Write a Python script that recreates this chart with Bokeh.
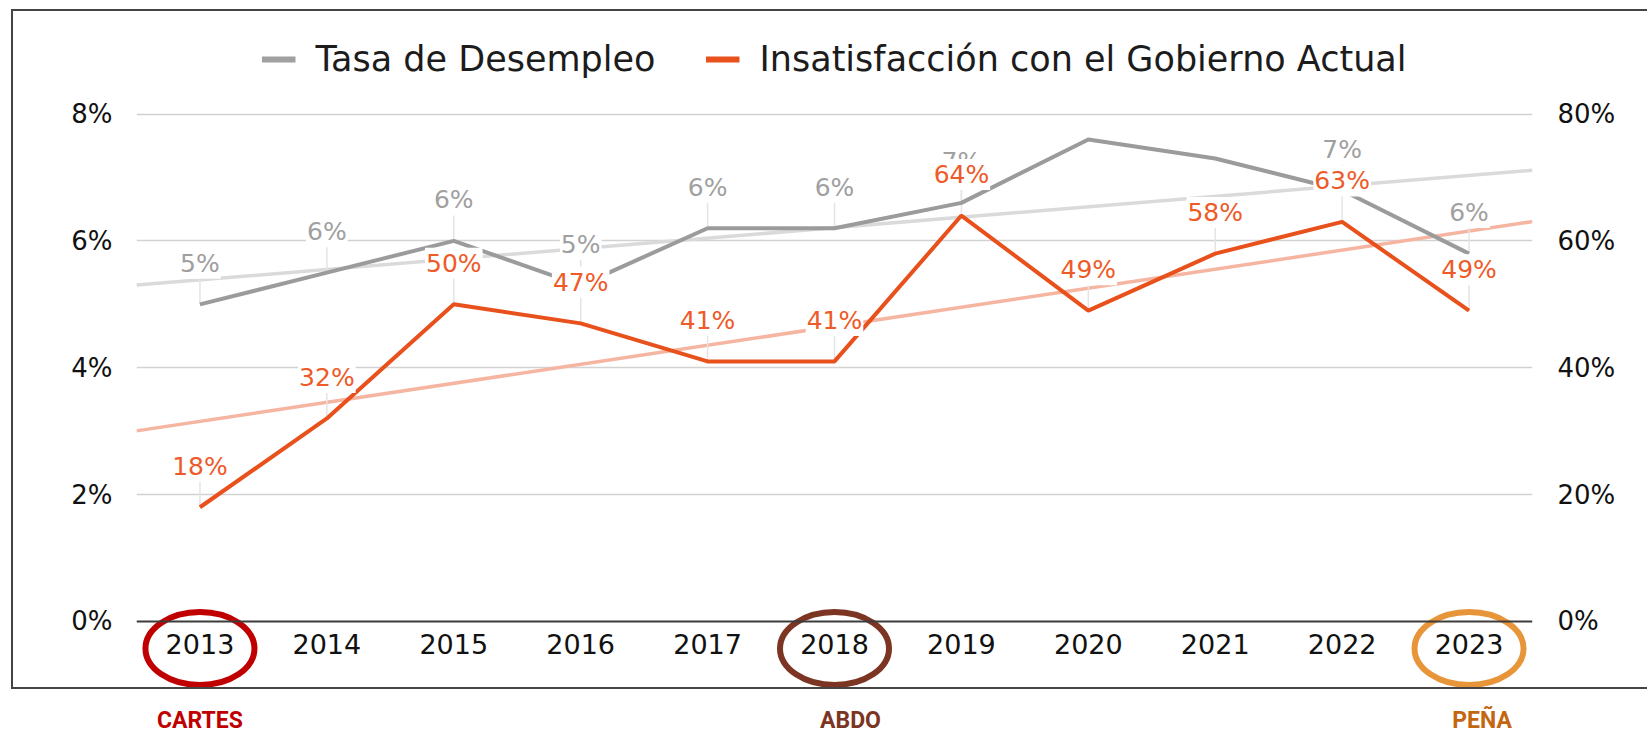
import numpy as np
from bokeh.plotting import figure
from bokeh.models import (FactorRange, Range1d, LinearAxis, FixedTicker, PrintfTickFormatter,
                          Grid, Span, Legend, LegendItem)
from bokeh.core.properties import value
from bokeh.embed import file_html
from bokeh.resources import INLINE

# ---------------- data ----------------
years = ["2013", "2014", "2015", "2016", "2017", "2018", "2019", "2020", "2021", "2022", "2023"]
unemployment = [5.0, 5.5, 6.0, 5.3, 6.2, 6.2, 6.6, 7.6, 7.3, 6.8, 5.8]          # % (left axis)
dissatisfaction = [18, 32, 50, 47, 41, 41, 64, 49, 58, 63, 49]                   # % (right axis)
unemployment_labels = ["5%", "6%", "6%", "5%", "6%", "6%", "7%", "", "", "7%", "6%"]
dissatisfaction_labels = ["18%", "32%", "50%", "47%", "41%", "41%", "64%", "49%", "58%", "63%", "49%"]
left_ticks = [0, 2, 4, 6, 8]
right_ticks = [0, 20, 40, 60, 80]
series_names = ["Tasa de Desempleo", "Insatisfacción con el Gobierno Actual"]
president_years = ["2013", "2018", "2023"]
presidents = ["CARTES", "ABDO", "PEÑA"]

# ---------------- styling / geometry ----------------
GRAY = "#9b9b9b"
ORANGE = "#E8501C"
GRAY_TREND = "#dadada"
ORANGE_TREND = "#F5B5A1"
CIRCLE_COLORS = ["#C00000", "#7B3522", "#E8953A"]
NAME_COLORS = ["#C00000", "#7B3522", "#C4650F"]
FONT = "DejaVu Sans"

W, H = 1650, 734
FRAME_L, FRAME_R = 136, 1532
Y0_PX, Y8_PX = 620.9, 113.6             # pixel rows of 0% and 8%
ppu = (Y0_PX - Y8_PX) / 8.0
y_start = -(H - Y0_PX) / ppu
y_end = 8 + Y8_PX / ppu

p = figure(width=W, height=H, x_range=FactorRange(factors=years, range_padding=0),
           y_range=Range1d(y_start, y_end), output_backend="svg", toolbar_location=None,
           x_axis_location=None, y_axis_location=None,
           min_border_left=FRAME_L, min_border_right=W - FRAME_R,
           min_border_top=0, min_border_bottom=0)
p.outline_line_color = None
p.background_fill_color = "white"
p.border_fill_color = "white"
p.center = [r for r in p.center if not isinstance(r, Grid)]
p.extra_y_ranges = {"right": Range1d(y_start * 10, y_end * 10), "px": Range1d(H, 0)}

# chart border (top, left, bottom) drawn over the whole canvas
p.stylesheets = [":host::after { content: ''; position: absolute; left: 11px; top: 9px; "
                 "width: 1636px; height: 680px; border: 2px solid #444444; border-right: none; "
                 "pointer-events: none; box-sizing: border-box; }"]

# axes
la = LinearAxis(ticker=FixedTicker(ticks=left_ticks), formatter=PrintfTickFormatter(format="%d%%"))
ra = LinearAxis(y_range_name="right", ticker=FixedTicker(ticks=right_ticks),
                formatter=PrintfTickFormatter(format="%d%%"))
for ax, st in ((la, 18), (ra, 19)):
    ax.axis_line_color = None
    ax.major_tick_line_color = None
    ax.minor_tick_line_color = None
    ax.major_label_standoff = st
    ax.major_label_text_font = FONT
    ax.major_label_text_font_size = "26px"
    ax.major_label_text_color = "#111111"
p.add_layout(la, "left")
p.add_layout(ra, "right")

grid = Grid(dimension=1, ticker=FixedTicker(ticks=[t for t in left_ticks if t > 0]),
            grid_line_color="#d2d2d2", grid_line_width=1.5)
p.add_layout(grid)
p.add_layout(Span(location=0, dimension="width", line_color="#3c3c3c", line_width=2))

# trend lines
idx = np.arange(len(years))
ends = [(years[0], -0.5), (years[-1], 0.5)]
cu = np.polyfit(idx, unemployment, 1)
cd = np.polyfit(idx, dissatisfaction, 1)
p.line(x=ends, y=list(np.polyval(cu, [-0.5, len(years) - 0.5])), line_color=GRAY_TREND, line_width=3.5)
p.line(x=ends, y=list(np.polyval(cd, [-0.5, len(years) - 0.5])), line_color=ORANGE_TREND,
       line_width=3.5, y_range_name="right")

# leader lines
LEAD_L, LEAD_R = 0.62, 6.2
uy = [years[i] for i in range(len(years)) if unemployment_labels[i]]
uv = [unemployment[i] for i in range(len(years)) if unemployment_labels[i]]
p.segment(x0=uy, y0=uv, x1=uy, y1=[v + LEAD_L for v in uv], line_color="#e4e4e4", line_width=1.5)
p.segment(x0=years, y0=dissatisfaction, x1=years, y1=[v + LEAD_R for v in dissatisfaction],
          line_color="#e4e4e4", line_width=1.5, y_range_name="right")

# series
r_u = p.line(x=years, y=unemployment, line_color=GRAY, line_width=4)
r_d = p.line(x=years, y=dissatisfaction, line_color=ORANGE, line_width=4, y_range_name="right")

# data labels
p.text(x=years, y=unemployment, text=unemployment_labels, text_font=value(FONT), text_font_size="25px",
       text_color="#a0a0a0", text_align="center", text_baseline="middle", y_offset=-41,
       background_fill_color="white", padding=1)
p.text(x=years, y=dissatisfaction, text=dissatisfaction_labels, text_font=value(FONT),
       text_font_size="25px", text_color="#EE5A28", text_align="center", text_baseline="middle",
       y_offset=-41, background_fill_color="white", padding=1, y_range_name="right")

# year labels (category axis)
p.text(x=years, y=[0] * len(years), text=years, text_font=value(FONT), text_font_size="27px",
       text_color="#111111", text_align="center", text_baseline="middle", y_offset=23)

# president circles and names
p.ellipse(x=president_years, y=[648] * 3, width=109, height=73, width_units="screen",
          height_units="screen", fill_color=None, line_color=CIRCLE_COLORS, line_width=6,
          y_range_name="px")
p.text(x=president_years, y=[720] * 3, x_offset=[0, 16, 13], text=presidents,
       text_font=value("Roboto"), text_font_style="bold", text_font_size="23px",
       text_color=NAME_COLORS, text_align="center", text_baseline="middle", y_range_name="px")

# legend (single-point helper lines give thicker legend markers)
lg_u = p.line(x=years[:1], y=unemployment[:1], line_color="#a0a0a0", line_width=6)
lg_d = p.line(x=years[:1], y=dissatisfaction[:1], line_color=ORANGE, line_width=6,
              y_range_name="right")
legend = Legend(items=[LegendItem(label=series_names[0], renderers=[lg_u]),
                       LegendItem(label=series_names[1], renderers=[lg_d])],
                orientation="horizontal", location="top_center", margin=39, padding=0,
                spacing=50, glyph_width=34, label_standoff=20,
                label_text_font=FONT, label_text_font_size="35px", label_text_color="#1c1c1c",
                background_fill_alpha=0, border_line_color=None)
p.add_layout(legend)

open("out.html", "w").write(file_html(p, INLINE))
